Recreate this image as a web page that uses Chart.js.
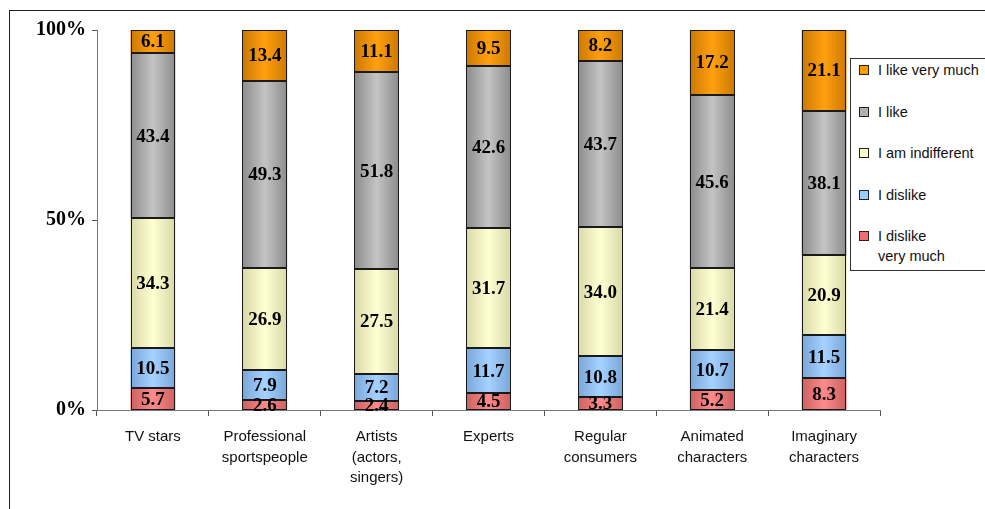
<!DOCTYPE html>
<html>
<head>
<meta charset="utf-8">
<script src="https://cdn.jsdelivr.net/npm/chart.js@4.4.1/dist/chart.umd.min.js"></script>
<style>
  body { margin: 0; background: #fff; }
  #wrap { position: relative; width: 985px; height: 509px; overflow: hidden; }
  #frame { position: absolute; left: 9px; top: 10px; width: 990px; height: 520px;
           border-left: 1px solid #222; border-top: 1px solid #222; }
  #legend { position: absolute; left: 850px; top: 58px; width: 135px; height: 211px;
            border: 1px solid #333; background: #fff;
            font-family: "Liberation Sans", Arial, sans-serif; font-size: 14.5px; color: #111; }
  .item { position: absolute; left: 8px; line-height: 20px; }
  .item span.sw { position: absolute; left: 0; top: 5px; width: 8px; height: 8px; border: 1px solid #222; }
  .item span.tx { position: absolute; left: 19px; top: 0; white-space: nowrap; }
</style>
</head>
<body>
<div id="wrap">
  <div id="frame"></div>
  <canvas id="chart" width="985" height="509"></canvas>
  <div id="legend"></div>
</div>
<script>
// attitude towards each kind of person (percent of answers)
const categories = [
  'TV stars',
  ['Professional', 'sportspeople'],
  ['Artists', '(actors,', 'singers)'],
  'Experts',
  ['Regular', 'consumers'],
  ['Animated', 'characters'],
  ['Imaginary', 'characters']
];
const dislikeVeryMuch = [5.7, 2.6, 2.4, 4.5, 3.3, 5.2, 8.3];
const dislike = [10.5, 7.9, 7.2, 11.7, 10.8, 10.7, 11.5];
const indifferent = [34.3, 26.9, 27.5, 31.7, 34.0, 21.4, 20.9];
const like = [43.4, 49.3, 51.8, 42.6, 43.7, 45.6, 38.1];
const likeVeryMuch = [6.1, 13.4, 11.1, 9.5, 8.2, 17.2, 21.1];
const yTicks = [0, 50, 100];

const BAR_PCT = 0.4;

// edge / centre colours for the cylinder shading
const series = [
  { label: ['I dislike', 'very much'], data: dislikeVeryMuch, edge: '#cc6060', mid: '#ff8a8a', sw: '#f07070' },
  { label: ['I dislike'], data: dislike, edge: '#78a6d8', mid: '#a6d2ff', sw: '#99ccff' },
  { label: ['I am indifferent'], data: indifferent, edge: '#d8d8a8', mid: '#ffffd2', sw: '#ffffcc' },
  { label: ['I like'], data: like, edge: '#8c8c8c', mid: '#c4c4c4', sw: '#b0b0b0' },
  { label: ['I like very much'], data: likeVeryMuch, edge: '#cc7800', mid: '#ffa010', sw: '#ff9900' }
];

function shade(s) {
  return function (ctx) {
    const chart = ctx.chart;
    const area = chart.chartArea;
    const xs = chart.scales.x;
    if (!area || !xs) return s.mid;
    const cx = xs.getPixelForValue(ctx.dataIndex);
    const w = (area.right - area.left) / categories.length * BAR_PCT;
    const g = chart.ctx.createLinearGradient(cx - w / 2, 0, cx + w / 2, 0);
    g.addColorStop(0, s.edge);
    g.addColorStop(0.5, s.mid);
    g.addColorStop(1, s.edge);
    return g;
  };
}

// crisp dark outline around every segment
const segmentOutlines = {
  id: 'segmentOutlines',
  afterDatasetsDraw(chart) {
    const c = chart.ctx;
    c.save();
    c.strokeStyle = '#1a1a1a';
    c.lineWidth = 1;
    chart.data.datasets.forEach((ds, i) => {
      chart.getDatasetMeta(i).data.forEach(bar => {
        const l = Math.round(bar.x - bar.width / 2) + 0.5;
        const r = Math.round(bar.x + bar.width / 2) - 0.5;
        const t = Math.round(Math.min(bar.y, bar.base)) + 0.5;
        const b = Math.round(Math.max(bar.y, bar.base)) - 0.5;
        c.strokeRect(l, t, r - l, b - t);
      });
    });
    c.restore();
  }
};

// value labels in the middle of each segment
const segmentLabels = {
  id: 'segmentLabels',
  afterDatasetsDraw(chart) {
    const c = chart.ctx;
    c.save();
    c.font = 'bold 19px "Liberation Serif", "Times New Roman", serif';
    c.fillStyle = '#000';
    c.textAlign = 'center';
    c.textBaseline = 'middle';
    chart.data.datasets.forEach((ds, i) => {
      chart.getDatasetMeta(i).data.forEach((bar, j) => {
        const y = (bar.y + bar.base) / 2;
        c.fillText(ds.data[j].toFixed(1), bar.x, y + 1);
      });
    });
    c.restore();
  }
};

new Chart(document.getElementById('chart'), {
  type: 'bar',
  data: {
    labels: categories,
    datasets: series.map(s => ({
      label: s.label.join(' '),
      data: s.data,
      backgroundColor: shade(s),
      borderWidth: 0,
      barPercentage: BAR_PCT,
      categoryPercentage: 1
    }))
  },
  options: {
    responsive: false,
    animation: false,
    layout: { padding: { left: 0, top: 30, right: 105, bottom: 0 } },
    plugins: { legend: { display: false }, tooltip: { enabled: false } },
    scales: {
      x: {
        stacked: true,
        grid: { display: true, drawOnChartArea: false, tickLength: 6, color: '#555' },
        border: { color: '#777', width: 1 },
        ticks: {
          color: '#111',
          padding: 11,
          maxRotation: 0,
          autoSkip: false,
          font: { family: '"Liberation Sans", Arial, sans-serif', size: 15, lineHeight: 1.35 }
        },
        afterFit(scale) { scale.height = 99; }
      },
      y: {
        stacked: true,
        min: 0,
        max: 100,
        afterBuildTicks(scale) { scale.ticks = yTicks.map(v => ({ value: v })); },
        grid: { display: true, drawOnChartArea: false, tickLength: 5, color: '#555' },
        border: { color: '#777', width: 1 },
        ticks: {
          color: '#000',
          padding: 6,
          callback: v => v + '%',
          font: { family: '"Liberation Serif", "Times New Roman", serif', size: 20, weight: 'bold' }
        },
        afterFit(scale) { scale.width = 97; }
      }
    }
  },
  plugins: [segmentOutlines, segmentLabels]
});

// legend box on the right, top entry first
const legend = document.getElementById('legend');
const itemTops = [0, 42, 83, 125, 166];
series.slice().reverse().forEach((s, k) => {
  const d = document.createElement('div');
  d.className = 'item';
  d.style.top = itemTops[k] + 1 + 'px';
  d.innerHTML = '<span class="sw" style="background:' + s.sw + '"></span>' +
    '<span class="tx">' + s.label.join('<br>') + '</span>';
  legend.appendChild(d);
});
</script>
</body>
</html>
